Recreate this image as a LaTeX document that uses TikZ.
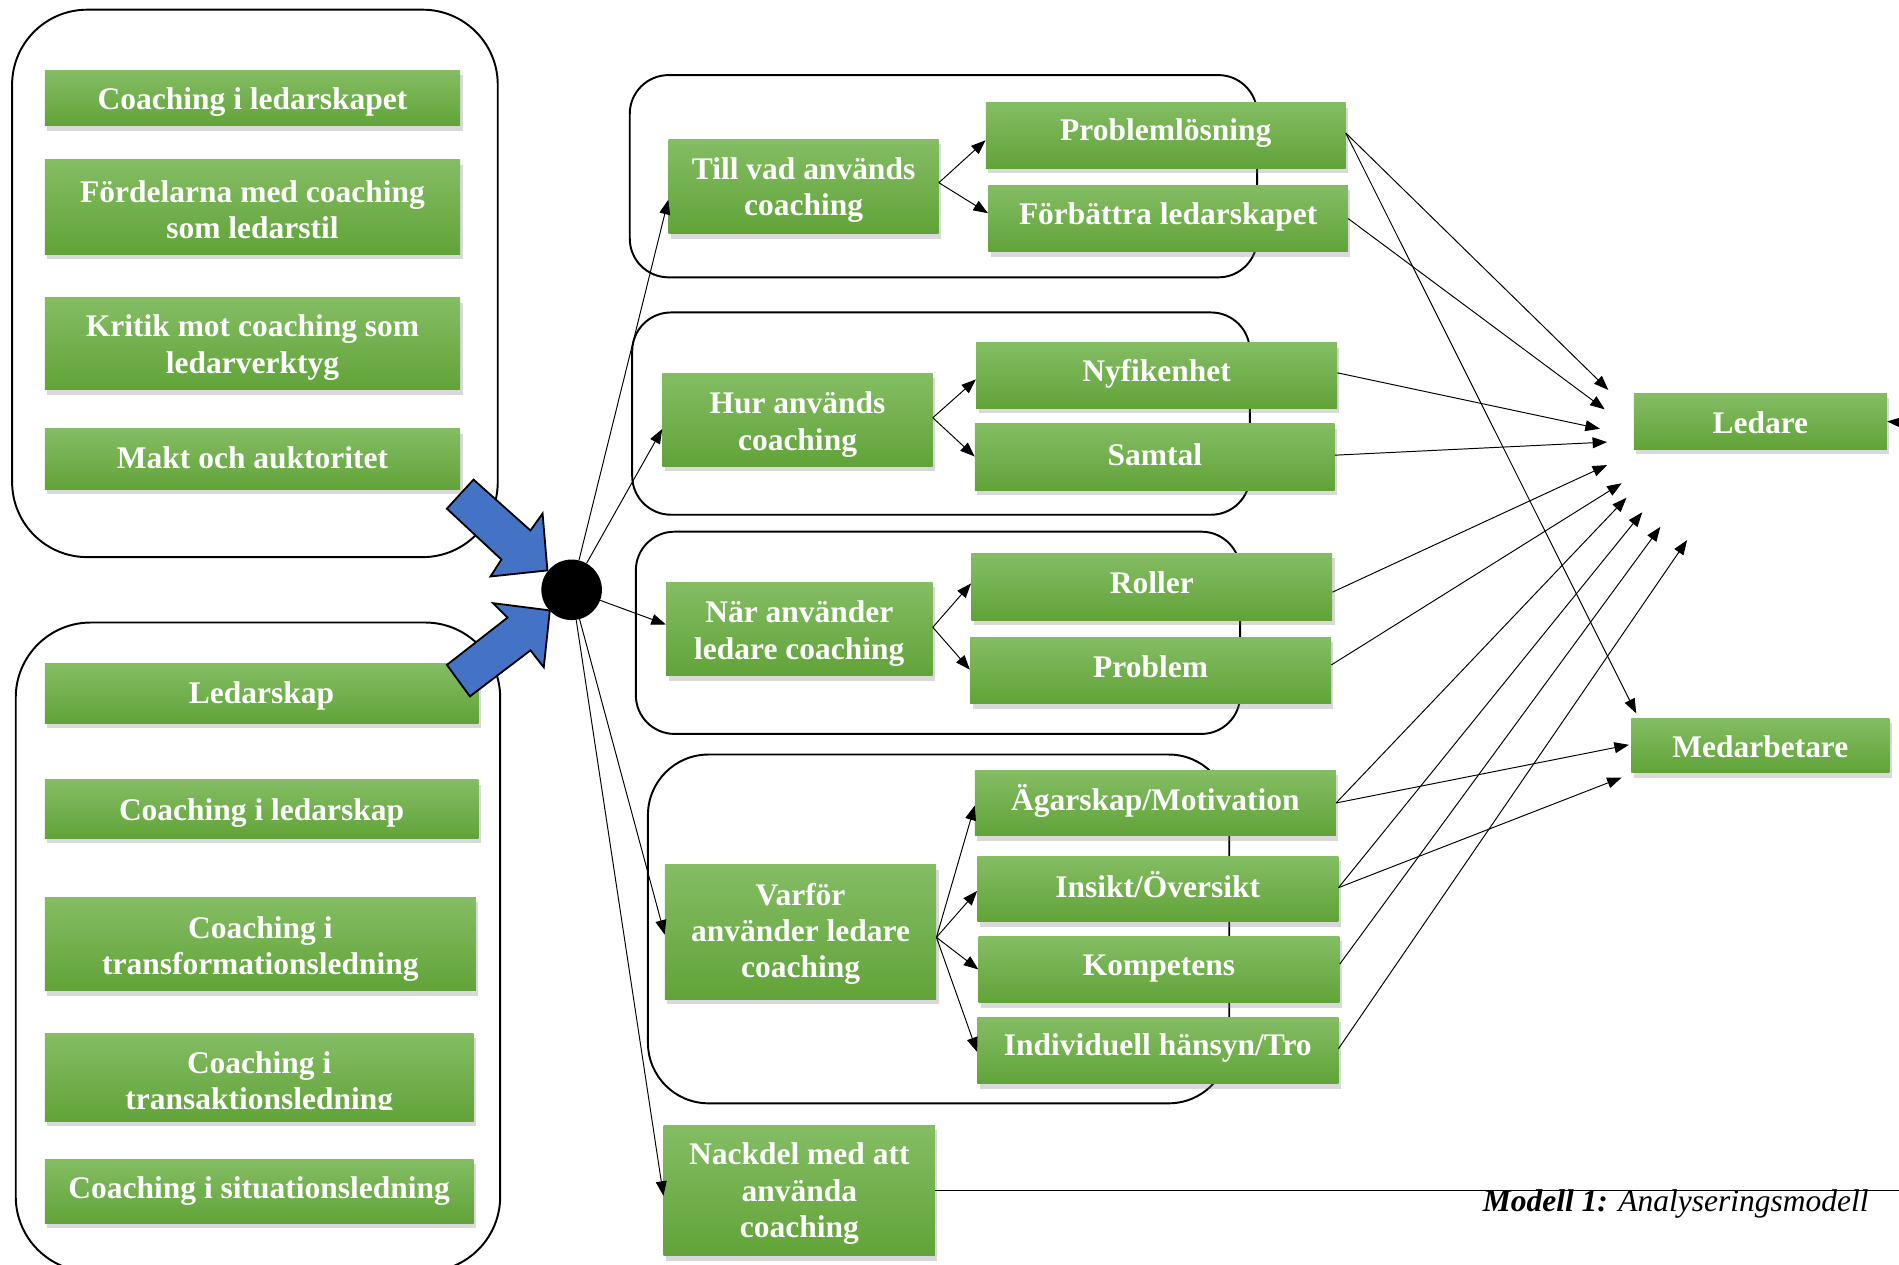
\documentclass[tikz,border=0pt]{standalone}
\usepackage{fontspec}
\setmainfont{Liberation Serif}
\usetikzlibrary{arrows.meta,shadows,calc}
\definecolor{gTop}{RGB}{132,189,100}
\definecolor{gBot}{RGB}{97,163,56}
\definecolor{bArrow}{RGB}{68,114,196}
\tikzset{
  gbox/.style={rectangle, inner sep=0pt, top color=gTop, bottom color=gBot, draw=none,
    drop shadow={shadow xshift=2pt, shadow yshift=-4pt, opacity=0.3}},
  gtxt/.style={inner sep=0pt, text=white, align=center, font=\fontsize{26}{30}\selectfont\bfseries},
  grp/.style={draw=black, line width=1.6pt},
  arr/.style={-{Triangle[length=12pt,width=9pt]}, line width=0.8pt},
  blk/.style={fill=bArrow, draw=black, line width=1.5pt, line join=miter},
  plain/.style={line width=1pt}
}
% \gnode[text offset]{name}{cx}{cy}{w}{h}{text}
\newcommand\gnode[7][0]{%
  \node[gbox, minimum width=#5pt, minimum height=#6pt] (#2) at (#3,#4) {};
  \node[gtxt] (#2-t) at ($(#2.center)+(0,#1)$) {#7};}
\begin{document}
\begin{tikzpicture}[x=1pt,y=-1pt]
\useasboundingbox (0,0) rectangle (1568,1044);
% group outlines
\draw[grp, rounded corners=62pt] (10,8) rectangle (411,460);
\draw[grp, rounded corners=62pt] (13,514) rectangle (413,1050);
\draw[grp, rounded corners=32pt] (520,62) rectangle (1038,229);
\draw[grp, rounded corners=32pt] (522,258) rectangle (1032,425);
\draw[grp, rounded corners=32pt] (525,439) rectangle (1024,606);
\draw[grp, rounded corners=50pt] (535,623) rectangle (1015,911);
% left boxes
\gnode[3]{a1}{208.5}{81}{343}{46}{Coaching i ledarskapet}
\gnode[2]{a2}{208.5}{171}{343}{78}{Fördelarna med coaching\\som ledarstil}
\gnode[3]{a3}{208.5}{284}{343}{76}{Kritik mot coaching som\\ledarverktyg}
\gnode[-1]{a4}{208.5}{379}{343}{50}{Makt och auktoritet}
\gnode[2]{b1}{216}{572.5}{358}{49}{Ledarskap}
\gnode[3]{b2}{216}{668}{358}{48}{Coaching i ledarskap}
\gnode[4]{b3}{215}{779.5}{356}{77}{Coaching i\\transformationsledning}
\node[gbox, minimum width=354pt, minimum height=73pt] (b4) at (214,889.5) {};
\begin{scope}
  \clip (37,853) rectangle (391,916);
  \node[gtxt] (b4-t) at (214,895) {Coaching i\\transaktionsledning};
\end{scope}
\gnode{b5}{214}{983.5}{354}{53}{Coaching i situationsledning}
% middle boxes
\gnode[3]{till}{663.5}{154}{223}{78}{Till vad används\\coaching}
\gnode[-2]{prob}{962.5}{112}{297}{54}{Problemlösning}
\gnode[-1]{forb}{964.5}{180.5}{297}{55}{Förbättra ledarskapet}
\gnode[4]{hur}{658.5}{346.5}{223}{77}{Hur används\\coaching}
\gnode[-1]{nyf}{955}{310}{298}{54}{Nyfikenhet}
\gnode[-2]{samt}{953.5}{377.5}{297}{55}{Samtal}
\gnode[3.5]{nar}{660}{519.5}{220}{77}{När använder\\ledare coaching}
\gnode[-3]{roll}{951}{484.5}{298}{55}{Roller}
\gnode[-3]{probl}{950}{553.5}{298}{55}{Problem}
\gnode[1.5]{varf}{661}{769.5}{224}{111}{Varför\\använder ledare\\coaching}
\gnode[-2]{agar}{954}{663}{298}{54}{Ägarskap/Motivation}
\gnode[-4]{ins}{956}{734}{298}{54}{Insikt/Översikt}
\gnode[-1]{komp}{957}{800.5}{298}{55}{Kompetens}
\gnode[-2]{ind}{956}{867.5}{298}{55}{Individuell hänsyn/Tro}
\gnode[2.5]{nack}{660}{983}{224}{108}{Nackdel med att\\använda\\coaching}
\gnode[1]{ledare}{1453.5}{348}{209}{46}{Ledare}
\gnode[1]{medarb}{1453.5}{615.5}{213}{45}{Medarbetare}
% blue block arrows
\draw[blk] (391,396) -- (438,438) -- (448,424) -- (452,471) -- (405,476) -- (414,462) -- (369,420) -- cycle;
\draw[blk] (369,549) -- (419,510) -- (407,498) -- (454,504) -- (449,551) -- (438,537) -- (388,575) -- cycle;
% hub
\node[circle, fill=black, minimum size=50pt, inner sep=0pt] (hub) at (472,487) {};
% hub arrows
\draw[arr] (hub) -- ($(till.north west)!0.64!(till.south west)$);
\draw[arr] (hub) -- ($(hur.north west)!0.6!(hur.south west)$);
\draw[arr] (hub) -- ($(nar.north west)!0.45!(nar.south west)$);
\draw[arr] (hub) -- ($(varf.north west)!0.52!(varf.south west)$);
\draw[arr] (hub) -- ($(nack.north west)!0.54!(nack.south west)$);
% branches
\coordinate (s1) at ($(till.north east)!0.46!(till.south east)$);
\draw[arr] (s1) -- ($(prob.north west)!0.57!(prob.south west)$);
\draw[arr] (s1) -- ($(forb.north west)!0.42!(forb.south west)$);
\coordinate (s2) at ($(hur.north east)!0.48!(hur.south east)$);
\draw[arr] (s2) -- ($(nyf.north west)!0.56!(nyf.south west)$);
\draw[arr] (s2) -- ($(samt.north west)!0.49!(samt.south west)$);
\coordinate (s3) at ($(nar.north east)!0.48!(nar.south east)$);
\draw[arr] (s3) -- ($(roll.north west)!0.45!(roll.south west)$);
\draw[arr] (s3) -- ($(probl.north west)!0.49!(probl.south west)$);
\coordinate (s4) at ($(varf.north east)!0.54!(varf.south east)$);
\draw[arr] (s4) -- ($(agar.north west)!0.54!(agar.south west)$);
\draw[arr] (s4) -- ($(ins.north west)!0.53!(ins.south west)$);
\draw[arr] (s4) -- ($(komp.north west)!0.5!(komp.south west)$);
\draw[arr] (s4) -- ($(ind.north west)!0.52!(ind.south west)$);
% right targets
\coordinate (t1) at (1328,322);
\coordinate (t2) at (1325,338);
\coordinate (t3) at (1321,354);
\coordinate (t4) at (1327,365);
\coordinate (t5) at (1327,384);
\coordinate (t6) at (1339,399);
\coordinate (t7) at (1343,411);
\coordinate (t8) at (1356,423);
\coordinate (t9) at (1371,435);
\coordinate (t10) at (1393,446);
\coordinate (t11) at (1351,589);
\coordinate (t12) at (1345,615);
\coordinate (t13) at (1339,642);
\coordinate (pe) at ($(prob.north east)!0.46!(prob.south east)$);
\draw[arr] (pe) -- (t1);
\draw[arr] (pe) -- (t11);
\draw[arr] (forb.east) -- (t2);
\draw[arr] ($(nyf.north east)!0.46!(nyf.south east)$) -- (t3);
\draw[arr] ($(samt.north east)!0.47!(samt.south east)$) -- (t4);
\draw[arr] ($(roll.north east)!0.58!(roll.south east)$) -- (t5);
\draw[arr] ($(probl.north east)!0.42!(probl.south east)$) -- (t6);
\draw[arr] (agar.east) -- (t7);
\draw[arr] (agar.east) -- (t12);
\coordinate (ie) at ($(ins.north east)!0.48!(ins.south east)$);
\draw[arr] (ie) -- (t8);
\draw[arr] (ie) -- (t13);
\draw[arr] ($(komp.north east)!0.42!(komp.south east)$) -- (t9);
\draw[arr] ($(ind.north east)!0.47!(ind.south east)$) -- (t10);
% incoming to Ledare from the right edge
\coordinate (lin) at (1585,350);
\draw[arr] (lin) -- (ledare.east);
% bottom line and caption
\coordinate (lend) at (1575,983);
\draw[plain] (nack.east) -- (lend);
\node[anchor=base east, inner sep=0pt, font=\fontsize{26}{30}\selectfont\itshape] (cap) at (1543,1000) {\textbf{Modell 1:} Analyseringsmodell};
\end{tikzpicture}
\end{document}
